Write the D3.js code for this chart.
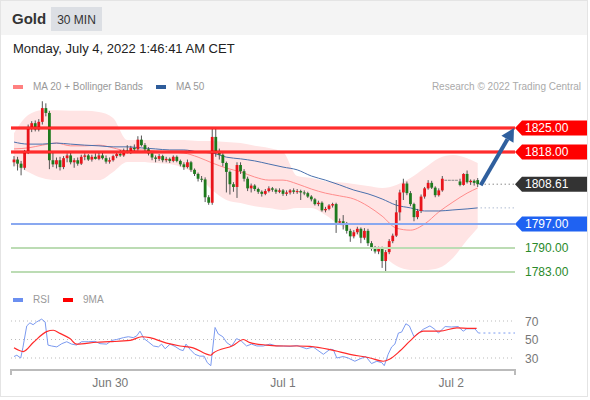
<!DOCTYPE html>
<html>
<head>
<meta charset="utf-8">
<script src="https://cdn.jsdelivr.net/npm/d3@7"></script>
<style>
  body { margin: 0; background: #fff; }
  svg { display: block; font-family: "Liberation Sans", Arial, sans-serif; }
</style>
</head>
<body>
<div id="canvas"></div>
<script>
// 30 min candles, index 0..131
const opens = [1815.0,1815.8,1814.6,1813.4,1818.0,1825.0,1826.4,1824.6,1826.8,1830.8,1829.4,1815.6,1814.4,1815.6,1813.6,1816.2,1817.0,1815.0,1815.6,1814.6,
  1816.6,1817.0,1815.8,1816.6,1816.0,1817.0,1816.2,1815.2,1815.6,1816.8,1817.4,1817.0,1818.4,1818.0,1819.2,1818.8,1821.6,1820.0,1818.8,1817.6,
  1816.4,1816.0,1816.8,1815.6,1816.0,1815.4,1816.6,1815.4,1814.4,1813.6,1815.0,1812.8,1811.6,1810.2,1810.0,1804.8,1803.2,1822.4,1818.0,1817.2,
  1814.8,1812.2,1808.6,1807.8,1814.2,1812.4,1810.2,1807.4,1808.2,1807.2,1806.4,1805.8,1806.6,1807.4,1807.0,1806.4,1806.8,1805.8,1806.2,1806.8,
  1806.4,1806.6,1806.2,1806.0,1805.0,1804.2,1802.8,1803.2,1801.0,1801.4,1802.4,1802.8,1797.4,1797.8,1797.2,1795.0,1793.4,1794.6,1795.6,1793.0,
  1795.0,1791.4,1789.8,1789.0,1789.8,1786.2,1788.8,1792.0,1793.6,1800.4,1806.2,1808.8,1806.0,1802.8,1799.0,1800.8,1805.0,1807.4,1809.0,1807.6,
  1805.4,1806.8,1809.9,1809.9,1809.9,1809.9,1809.4,1808.4,1811.6,1809.2,1809.6,1809.8];
const highs = [1816.8,1816.6,1815.4,1818.6,1826.0,1827.0,1827.2,1827.6,1832.8,1832.2,1830.0,1817.8,1816.4,1816.6,1816.8,1817.6,1817.8,1816.2,1816.4,1817.2,
  1817.6,1817.4,1817.2,1817.6,1817.8,1817.8,1817.0,1816.4,1817.2,1818.0,1818.6,1819.0,1820.0,1819.8,1820.2,1822.6,1822.8,1820.6,1819.4,1818.0,
  1817.0,1817.4,1817.2,1816.6,1816.4,1817.0,1817.0,1815.8,1815.0,1815.8,1815.4,1813.2,1812.0,1811.0,1810.6,1805.4,1825.0,1825.0,1819.0,1817.6,
  1815.2,1812.6,1809.2,1815.0,1815.0,1813.0,1810.8,1808.8,1808.6,1807.6,1806.8,1807.2,1808.0,1807.8,1807.4,1807.4,1807.2,1806.8,1807.2,1807.4,
  1807.2,1807.0,1806.8,1806.4,1805.4,1804.6,1803.8,1803.6,1802.0,1802.8,1803.2,1803.2,1798.6,1799.6,1797.6,1795.6,1795.2,1796.2,1796.0,1795.8,
  1795.6,1792.0,1790.6,1790.4,1790.4,1789.4,1792.6,1794.2,1804.0,1807.0,1810.2,1809.4,1806.6,1803.2,1801.4,1805.6,1807.8,1809.8,1809.6,1808.0,
  1807.4,1811.0,1809.9,1809.9,1809.9,1809.9,1810.2,1811.8,1812.6,1810.0,1810.0,1810.4];
const lows = [1813.8,1812.6,1811.2,1812.8,1817.4,1823.8,1824.0,1824.0,1826.0,1828.4,1813.0,1813.6,1813.2,1812.6,1813.0,1815.0,1814.4,1813.4,1814.0,1814.2,
  1815.6,1815.4,1815.2,1815.8,1815.6,1815.8,1814.6,1814.6,1815.2,1816.2,1816.6,1816.6,1817.6,1817.4,1818.2,1818.4,1819.6,1818.2,1817.0,1815.6,
  1815.0,1815.4,1815.0,1815.0,1814.8,1815.0,1815.0,1813.8,1812.8,1813.2,1812.2,1811.0,1809.4,1809.2,1803.4,1802.6,1802.6,1816.6,1815.8,1813.8,
  1806.2,1805.6,1806.4,1804.6,1811.6,1809.4,1806.6,1806.2,1806.6,1805.8,1805.0,1805.4,1806.2,1806.4,1805.8,1806.0,1805.2,1805.2,1805.6,1805.8,
  1805.8,1804.0,1805.4,1804.6,1803.6,1802.4,1802.2,1800.6,1800.4,1801.0,1801.8,1794.4,1796.8,1795.4,1794.2,1791.8,1792.8,1794.0,1791.4,1792.4,
  1790.6,1789.2,1788.4,1788.2,1784.2,1783.2,1788.2,1791.4,1793.2,1798.0,1804.0,1805.4,1802.2,1797.8,1798.4,1800.2,1804.4,1807.0,1807.2,1804.8,
  1805.0,1806.4,1809.9,1809.9,1809.9,1809.9,1808.0,1808.2,1808.8,1808.4,1808.2,1807.8];
const closes = [1815.8,1814.6,1813.4,1818.0,1825.0,1826.4,1824.6,1826.8,1830.8,1829.4,1815.6,1814.4,1815.6,1813.6,1816.2,1817.0,1815.0,1815.6,1814.6,1816.6,
  1817.0,1815.8,1816.6,1816.0,1817.0,1816.2,1815.2,1815.6,1816.8,1817.4,1817.0,1818.4,1818.0,1819.2,1818.8,1821.6,1820.0,1818.8,1817.6,1816.4,
  1816.0,1816.8,1815.6,1816.0,1815.4,1816.6,1815.4,1814.4,1813.6,1815.0,1812.8,1811.6,1810.2,1810.0,1804.8,1803.2,1822.4,1818.0,1817.2,1814.8,
  1812.2,1808.6,1807.8,1814.2,1812.4,1810.2,1807.4,1808.2,1807.2,1806.4,1805.8,1806.6,1807.4,1807.0,1806.4,1806.8,1805.8,1806.2,1806.8,1806.4,
  1806.6,1806.2,1806.0,1805.0,1804.2,1802.8,1803.2,1801.0,1801.4,1802.4,1802.8,1797.4,1797.8,1797.2,1795.0,1793.4,1794.6,1795.6,1793.0,1795.0,
  1791.4,1789.8,1789.0,1789.8,1786.2,1788.8,1792.0,1793.6,1800.4,1806.2,1808.8,1806.0,1802.8,1799.0,1800.8,1805.0,1807.4,1809.0,1807.6,1805.4,
  1806.8,1810.2,1809.9,1809.9,1809.9,1809.9,1808.4,1811.6,1809.2,1809.6,1809.0,1808.61];

// indicator samples (candle index -> price)
const bandIdx  = [0,4,8,12,16,20,24,28,32,36,40,44,48,52,56,60,64,68,72,76,80,84,88,92,96,100,104,108,112,116,120,124,128,131];
const bbUpper  = [1823.5,1828.8,1830.2,1830.2,1830.0,1830.0,1829.7,1827.9,1821.5,1821.5,1821.5,1821.5,1821.5,1821.2,1821.2,1820.9,1820.6,1819.8,1819.2,1818.0,
  1811.0,1810.4,1809.5,1809.2,1808.7,1808.1,1807.5,1808.4,1810.4,1813.3,1816.2,1817.1,1816.2,1814.8];
const bbMid    = [1818.9,1819.2,1820.0,1820.6,1819.8,1819.8,1820.0,1819.2,1818.3,1818.6,1818.3,1818.0,1817.7,1816.5,1814.8,1813.3,1812.2,1810.7,1809.8,1809.8,
  1808.7,1807.2,1806.0,1805.2,1804.3,1802.2,1799.3,1795.8,1795.2,1797.0,1800.5,1803.4,1806.0,1807.5];
const bbLower  = [1814.2,1812.2,1810.4,1809.8,1809.8,1809.8,1809.8,1812.2,1815.1,1815.1,1814.8,1814.5,1813.3,1811.0,1806.9,1804.0,1803.1,1802.2,1801.7,1801.1,
  1801.7,1801.7,1799.6,1796.7,1794.4,1791.8,1788.0,1784.8,1783.6,1783.6,1784.2,1787.1,1792.3,1795.8];
const ma50     = [1820.9,1820.3,1820.3,1820.6,1820.3,1820.0,1819.8,1819.5,1819.5,1819.2,1818.9,1818.6,1818.6,1818.0,1817.7,1816.5,1816.0,1815.4,1814.5,1813.6,
  1812.8,1811.0,1809.8,1808.4,1806.9,1805.8,1804.3,1802.5,1801.7,1800.8,1800.8,1801.1,1801.4,1801.7];

// RSI (candle index -> value) and its 9 period MA
const rsiIdx = [0,0.8,1.9,2.5,3.6,4.5,5.4,6.4,7.8,8.8,9.6,10.6,12.1,13.5,14.9,16.3,17.7,19.1,21,22.9,24.3,26.2,27.6,29,30.9,32.3,33.7,34.7,35.6,36.7,
  37.9,39.4,40.8,41.7,42.7,44.1,45.5,46.9,47.8,48.6,49.7,51.1,52.5,53.7,54.6,55.6,56.8,57.7,59,60.1,61.5,62.9,64.3,65.7,67.1,68.6,70.4,72.3,74.2,76.1,
  78,79.9,82.7,84.5,87.4,89.3,90.2,91.2,93,94.4,96.3,97.7,99.4,101,102.5,103.9,104.6,105.7,106.7,107.6,108.6,109.5,110.7,111.7,113,114.2,115.6,117.5,118.9,119.9,
  121.8,123.6,125.5,126.9,127.9,129.3,130.2,131.2];
const rsiVal = [31.6,33,30,41,64.7,68,66,69,72,69,44,43,42,45.5,47.6,45,44,47.6,47.6,48,45.5,45,49,50,52,53,52,54,59,51,
  47.6,43,42,45,40,45,42.5,39,38,45,39.5,34,32,32,25,21.7,63,56,53,46.6,43,51,48,43,45,43,43,45,43,43,
  42.5,43.5,40,42,34,39.5,39,30,31.6,30,26.5,29,31.6,24,26.5,25,21.7,34,42,45,57,58,67,64.7,53,56.6,61,64.7,61,57,
  64,63.5,64,59,61.6,61.6,61.6,57];
const maIdx = [0,2.6,5.5,9.2,11.1,13,15.8,17.7,23.4,27.1,32.8,36.1,38.4,43.1,46.9,50.6,55.6,56.3,61.9,64.8,66.7,71.4,76.1,80.3,83.6,89.3,94.9,100.6,104.3,106.2,
  109,111.9,115.6,120.3,125.1,128.8,130.7];
const maVal = [41,37,47,58.5,60,56.6,51,45,47,47.6,49,53,52,46,43,41,33,35.4,43.5,50,46.6,44,43,43,42.5,39,34,30,26.5,29,
  37.5,48.5,59,59,62.6,62,62];

const levels = [
  {v: 1825.00, kind: "res"},
  {v: 1818.00, kind: "res"},
  {v: 1797.00, kind: "piv"},
  {v: 1790.00, kind: "sup"},
  {v: 1783.00, kind: "sup"}
];
const lastPrice = 1808.61;
const target = 1825.00;
const rsiLevels = [70, 50, 30];
const tickIdx = [27.2, 76, 123.5];
const tickLabels = ["Jun 30", "Jul 1", "Jul 2"];

const w = 590, h = 400;
const plotL = 11, plotR = 515;
const upCol = "#e8141b", downCol = "#1e7a1e";

const x = d3.scaleLinear().domain([0, 131]).range([14, 477.7]);
const y = d3.scaleLinear().domain([1783, 1825]).range([272, 128]);
const yR = d3.scaleLinear().domain([30, 70]).range([358, 321]);

const svg = d3.select("#canvas").append("svg")
  .attr("width", w).attr("height", h);

// header
svg.append("rect").attr("x", 0).attr("y", 0).attr("width", 588).attr("height", 35).attr("fill", "#f4f4f4");
svg.append("rect").attr("x", 0.5).attr("y", 0.5).attr("width", 587).attr("height", 396)
  .attr("fill", "none").attr("stroke", "#e4e4e4");
svg.append("text").attr("x", 12).attr("y", 24).attr("font-size", 15).attr("font-weight", "bold")
  .attr("fill", "#333").text("Gold");
svg.append("rect").attr("x", 51).attr("y", 7).attr("width", 51).attr("height", 24).attr("fill", "#dcdfe4");
svg.append("text").attr("x", 76.5).attr("y", 24).attr("text-anchor", "middle").attr("font-size", 12)
  .attr("fill", "#333").text("30 MIN");
svg.append("text").attr("x", 13).attr("y", 53).attr("font-size", 13).attr("fill", "#222")
  .text("Monday, July 4, 2022 1:46:41 AM CET");

// legends
function legendItem(g, lx, ly, col, label) {
  g.append("rect").attr("x", lx).attr("y", ly - 5).attr("width", 10).attr("height", 4).attr("fill", col);
  g.append("text").attr("x", lx + 20).attr("y", ly).attr("font-size", 10).attr("fill", "#999").text(label);
}
legendItem(svg, 13, 90, "#ff8080", "MA 20 + Bollinger Bands");
legendItem(svg, 156, 90, "#2e5c9a", "MA 50");
svg.append("text").attr("x", 581).attr("y", 90).attr("text-anchor", "end").attr("font-size", 10)
  .attr("fill", "#aaa").text("Research \u00a9 2022 Trading Central");
legendItem(svg, 13, 303, "#6b8ff0", "RSI");
legendItem(svg, 63, 303, "#ff0000", "9MA");

// bollinger band
const bb = bandIdx.map((d, i) => ({i: d, up: bbUpper[i], mid: bbMid[i], lo: bbLower[i], ma: ma50[i]}));
svg.append("path").datum(bb)
  .attr("d", d3.area().curve(d3.curveMonotoneX).x(d => x(d.i)).y0(d => y(d.lo)).y1(d => y(d.up)))
  .attr("fill", "#ffe4e4");
svg.append("path").datum(bb)
  .attr("d", d3.line().curve(d3.curveMonotoneX).x(d => x(d.i)).y(d => y(d.mid)))
  .attr("fill", "none").attr("stroke", "#ff8c8c").attr("stroke-width", 1);
svg.append("path").datum(bb)
  .attr("d", d3.line().curve(d3.curveMonotoneX).x(d => x(d.i)).y(d => y(d.ma)))
  .attr("fill", "none").attr("stroke", "#4a70ad").attr("stroke-width", 1);

// candles
const candles = closes.map((c, i) => ({i: i, o: opens[i], h: highs[i], l: lows[i], c: c}));
const cg = svg.append("g");
cg.selectAll("line.wick").data(candles).enter().append("line")
  .attr("x1", d => x(d.i)).attr("x2", d => x(d.i))
  .attr("y1", d => y(d.h)).attr("y2", d => y(d.l))
  .attr("stroke", "#555").attr("stroke-width", 1);
cg.selectAll("rect").data(candles).enter().append("rect")
  .attr("x", d => x(d.i) - 1.4).attr("width", 2.8)
  .attr("y", d => y(Math.max(d.o, d.c)))
  .attr("height", d => Math.max(1, Math.abs(y(d.o) - y(d.c))))
  .attr("fill", d => d.c > d.o ? upCol : (d.c < d.o ? downCol : "#888"));

// level lines
const lastX = x(131);
levels.forEach(L => {
  const yy = y(L.v);
  if (L.kind === "res") {
    svg.append("line").attr("x1", plotL).attr("x2", plotR).attr("y1", yy).attr("y2", yy)
      .attr("stroke", "#ff0000").attr("stroke-width", 3);
    svg.append("line").attr("x1", plotL).attr("x2", plotR).attr("y1", yy).attr("y2", yy)
      .attr("stroke", "#ff7070").attr("stroke-width", 0.8);
  } else if (L.kind === "piv") {
    svg.append("line").attr("x1", plotL).attr("x2", plotR).attr("y1", yy).attr("y2", yy)
      .attr("stroke", "#89a8f0").attr("stroke-width", 2);
  } else {
    svg.append("line").attr("x1", plotL).attr("x2", plotR).attr("y1", yy).attr("y2", yy)
      .attr("stroke", "#bcdcb4").attr("stroke-width", 2);
  }
});

// dotted extensions of last price and MA50
svg.append("line").attr("x1", lastX + 3).attr("x2", plotR).attr("y1", y(lastPrice)).attr("y2", y(lastPrice))
  .attr("stroke", "#555").attr("stroke-dasharray", "1,3");
svg.append("line").attr("x1", lastX + 3).attr("x2", plotR).attr("y1", y(ma50[ma50.length - 1])).attr("y2", y(ma50[ma50.length - 1]))
  .attr("stroke", "#8a9cbc").attr("stroke-dasharray", "1,3");

// price tags
function tag(v, col, txtCol) {
  const cy = y(v);
  if (col) {
    svg.append("path")
      .attr("d", `M${plotR},${cy} L${plotR + 7},${cy - 7.5} L587,${cy - 7.5} L587,${cy + 7.5} L${plotR + 7},${cy + 7.5} Z`)
      .attr("fill", col);
  }
  svg.append("text").attr("x", 525).attr("y", cy + 4.3).attr("font-size", 12)
    .attr("fill", txtCol).text(v.toFixed(2));
}
levels.forEach(L => {
  if (L.kind === "res") tag(L.v, "#ff0000", "#fff");
  else if (L.kind === "piv") tag(L.v, "#1f62f2", "#fff");
  else tag(L.v, null, "#2a8a2a");
});
tag(lastPrice, "#333", "#fff");

// arrow toward target
const ax0 = lastX + 3, ay0 = y(lastPrice) + 1;
const ax1 = plotR - 1, ay1 = y(target);
const ang = Math.atan2(ay1 - ay0, ax1 - ax0);
const headL = 13, headW = 7;
const bx = ax1 - headL * Math.cos(ang), by = ay1 - headL * Math.sin(ang);
svg.append("line").attr("x1", ax0).attr("y1", ay0).attr("x2", bx).attr("y2", by)
  .attr("stroke", "#2f5f9e").attr("stroke-width", 4);
svg.append("path")
  .attr("d", `M${ax1},${ay1} L${bx + headW * Math.sin(ang)},${by - headW * Math.cos(ang)} L${bx - headW * Math.sin(ang)},${by + headW * Math.cos(ang)} Z`)
  .attr("fill", "#2f5f9e");

// RSI panel
rsiLevels.forEach(v => {
  svg.append("line").attr("x1", plotL).attr("x2", plotR).attr("y1", yR(v)).attr("y2", yR(v))
    .attr("stroke", "#bbb").attr("stroke-dasharray", "1,3");
  svg.append("text").attr("x", 525).attr("y", yR(v) + 4.5).attr("font-size", 12)
    .attr("fill", "#777").text(v);
});
const rsi = rsiIdx.map((d, i) => ({i: d, v: rsiVal[i]}));
const rma = maIdx.map((d, i) => ({i: d, v: maVal[i]}));
svg.append("path").datum(rsi)
  .attr("d", d3.line().x(d => x(d.i)).y(d => yR(d.v)))
  .attr("fill", "none").attr("stroke", "#7b9af0").attr("stroke-width", 1);
svg.append("path").datum(rma)
  .attr("d", d3.line().curve(d3.curveMonotoneX).x(d => x(d.i)).y(d => yR(d.v)))
  .attr("fill", "none").attr("stroke", "#ff2a2a").attr("stroke-width", 1.2);
svg.append("line").attr("x1", x(rsiIdx[rsiIdx.length - 1])).attr("x2", plotR)
  .attr("y1", yR(rsiVal[rsiVal.length - 1])).attr("y2", yR(rsiVal[rsiVal.length - 1]))
  .attr("stroke", "#7b9af0").attr("stroke-dasharray", "2,3");

// time axis
svg.append("path").attr("d", `M${plotL},375 V370 H${plotR} V375`)
  .attr("fill", "none").attr("stroke", "#bbb").attr("stroke-width", 2);
svg.selectAll("text.tick").data(tickIdx).enter().append("text")
  .attr("x", d => x(d)).attr("y", 387).attr("text-anchor", "middle")
  .attr("font-size", 12).attr("fill", "#777")
  .text((d, i) => tickLabels[i]);
</script>
</body>
</html>
